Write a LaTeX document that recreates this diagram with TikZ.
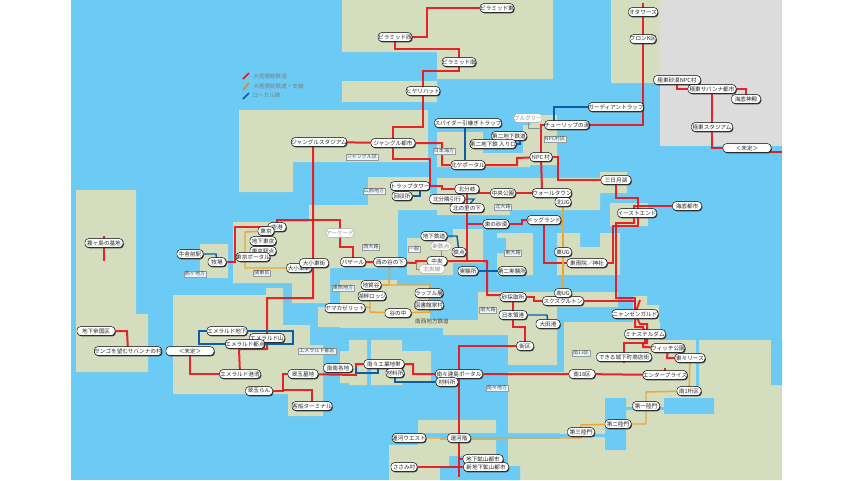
\documentclass[tikz,border=0pt]{standalone}
\usepackage{fontspec}
\setmainfont{Noto Sans CJK JP}
\usetikzlibrary{shadows}
\pgfdeclarelayer{landl}\pgfdeclarelayer{linesl}
\pgfsetlayers{landl,linesl,main}
\definecolor{sea}{HTML}{6BCBF5}
\definecolor{land}{HTML}{D4DDBE}
\definecolor{grayland}{HTML}{DCDCDC}
\definecolor{redl}{HTML}{E8141A}
\definecolor{orgl}{HTML}{EDA534}
\definecolor{blul}{HTML}{0A5FA8}
\tikzset{
 x=0.75pt,y=-0.75pt,
 stn/.style={draw=black,line width=.35pt,fill=white,rounded corners=2.6pt,inner sep=0pt,minimum height=6.6pt,
   font=\fontsize{4.2}{5}\selectfont,text=black!85,
   drop shadow={shadow xshift=.6pt,shadow yshift=-.7pt,fill=black!75,opacity=1}},
 fad/.style={draw=black!35,line width=.3pt,fill=white,rounded corners=2.6pt,inner sep=0pt,minimum height=6.6pt,
   font=\fontsize{4.2}{5}\selectfont,text=black!45},
 wd/.style={minimum width=#1*0.75pt},
 area/.style={draw=black!40,line width=.25pt,fill=white!85!sea,inner sep=.7pt,font=\fontsize{3.8}{4.5}\selectfont,text=black!70},
 rr/.style={draw=redl,line width=1.5pt,draw opacity=.92,line join=miter},
 oo/.style={draw=orgl,line width=1.1pt,line join=miter},
 bb/.style={draw=blul,line width=1.1pt,line join=miter},
 gg/.style={draw=black!45,line width=.5pt},
 lg/.style={inner sep=0pt,anchor=west,font=\fontsize{4.2}{5}\selectfont,text=black!50},
}
\begin{document}
\begin{tikzpicture}
\useasboundingbox (0,0) rectangle (854,480);
\begin{pgfonlayer}{landl}
\fill[white] (0,0) rectangle (854,480);
\fill[sea] (71,0) rectangle (782,480);
\fill[grayland] (660,0) rectangle (782,146);
\fill[land]
 (342,0) rectangle (553,52) (437,52) rectangle (553,79) (342,81) rectangle (437,102)
 (239,110) rectangle (428,162) (239,162) rectangle (293,192)
 (437,132) rectangle (483,167) (483,153) rectangle (530,167)
 (531,115) rectangle (557,125) (523,125) rectangle (557,165)
 (611,0) rectangle (660,83)
 (76,190) rectangle (136,314) (76,314) rectangle (148,372)
 (200,244) rectangle (228,278)
 (233,222) rectangle (309,283) (309,205) rectangle (330,283) (292,283) rectangle (330,303)
 (330,205) rectangle (398,268) (368,177) rectangle (398,205) (398,177) rectangle (430,210)
 (430,197) rectangle (438,210) (437,178) rectangle (510,215) (510,178) rectangle (600,210)
 (600,172) rectangle (627,193)
 (407,238) rectangle (453,275) (453,229) rectangle (483,263)
 (497,233) rectangle (533,275)
 (557,233) rectangle (580,275) (600,233) rectangle (620,275) (580,247) rectangle (600,275)
 (610,203) rectangle (648,226)
 (478,292) rectangle (618,307) (478,307) rectangle (557,320)
 (443,320) rectangle (508,335) (508,320) rectangle (557,365)
 (340,280) rectangle (397,328) (397,285) rectangle (430,328) (430,320) rectangle (443,328)
 (633,296) rectangle (647,322) (647,305) rectangle (659,340)
 (564,322) rectangle (660,372) (508,372) rectangle (782,433) (508,439) rectangle (782,480)
 (560,372) rectangle (782,480) (660,340) rectangle (782,480)
 (173,295) rectangle (266,394) (266,288) rectangle (283,394) (283,325) rectangle (310,394)
 (310,345) rectangle (323,416) (288,394) rectangle (323,416)
 (318,307) rectangle (350,327)
 (340,351) rectangle (349,383) (349,340) rectangle (367,385)
 (371,340) rectangle (402,385) (402,351) rectangle (431,383)
 (418,420) rectangle (496,433) (389,445) rectangle (440,480) (418,437) rectangle (440,445)
 (440,440) rectangle (496,456) (440,456) rectangle (449,466) (465,456) rectangle (496,466)
 ;
\fill[sea] (771,340) rectangle (782,385) (696,340) rectangle (699,390)
 (605,398) rectangle (626,450) (664,398) rectangle (714,414) (626,407) rectangle (664,410)
 (550,434) rectangle (605,437) (497,238) rectangle (506,253)
 (440,466) rectangle (520,480);
\end{pgfonlayer}

% stations
\node[stn,wd=30] (pyre) at (497,8) {ピラミッド東};
\node[stn,wd=30] (pyrw) at (395,37) {ピラミッド西};
\node[stn,wd=33] (pyrs) at (459,62) {ピラミッド南};
\node[stn,wd=33] (hiya) at (423,91) {ヒヤリハット};
\node[stn,wd=50] (jsta) at (319,142) {ジャングルスタジアム};
\node[stn,wd=44] (jcit) at (393,143) {ジャングル都市};
\node[stn,wd=53] (spid) at (468,123) {スパイダー引継ぎトラップ};
\node[fad,wd=27] (blue) at (528,118) {ブルグリー};
\node[stn,wd=44] (tuli) at (567,125) {チューリップの湯};
\node[stn,wd=35] (sub2) at (509,136) {第二地下鉄道};
\node[stn,wd=40] (sub2i) at (493,144) {第二地下鉄 入り口};
\node[stn,wd=22] (npc) at (541,157) {NPC 村};
\node[stn,wd=34] (nkpo) at (468,165) {北ケポータル};
\node[stn,wd=29] (otaw) at (643,12) {オタワース};
\node[stn,wd=24] (fron) at (643,39) {フロンK区};
\node[stn,wd=47] (fedn) at (677,80) {極東砂漠NPC村};
\node[stn,wd=48] (fesv) at (712,89) {極東サバンナ都市};
\node[stn,wd=29] (kait) at (746,99) {海底神殿};
\node[stn,wd=41] (fest) at (712,127) {極東スタジアム};
\node[stn,wd=48] (mit1) at (747,148) {＜未定＞};
\node[stn,wd=49] (gard) at (616,107) {ガーディアントラップ};
\node[stn,wd=38] (kiri) at (104,243) {霧ヶ島の基地};
\node[stn,wd=18] (boku) at (217,262) {牧場};
\node[stn,wd=26] (ushi) at (190,254) {牛舎前駅};
\node[stn,wd=18] (kuko) at (277,227) {空港};
\node[stn,wd=16] (tokyo) at (266,231) {東京};
\node[stn,wd=26] (chit) at (263,241) {地下東京};
\node[stn,wd=26] (tkpt) at (263,251) {東京駅点};
\node[stn,wd=31] (tkpo) at (253,257) {東京ポータル};
\node[stn,wd=25] (osta) at (299,268) {大小東駅};
\node[stn,wd=29] (omac) at (314,263) {大小東街};
\node[stn,wd=35] (trap) at (410,186) {トラップタワー};
\node[stn,wd=20] (kais) at (402,196) {回収所};
\node[stn,wd=24] (nbun) at (467,189) {北分岐};
\node[stn,wd=25] (ckou) at (503,193) {中央公園};
\node[stn,wd=35] (nhik) at (447,199) {北分隣引行};
\node[stn,wd=34] (nsat) at (467,208) {北の里の下};
\node[stn,wd=26] (esab) at (496,224) {東の砂漠};
\node[stn,wd=26] (chik) at (434,236) {地下鉄道};
\node[fad,wd=20] (shin) at (441,246) {新鉄点};
\node[stn,wd=14] (tetu) at (459,252) {鉄点};
\node[stn,wd=20] (chuo) at (437,261) {中央};
\node[fad,wd=25] (hoku) at (432,269) {北央線};
\node[stn,wd=20] (jikk) at (468,271) {実験所};
\node[stn,wd=28] (jik2) at (512,271) {第二実験所};
\node[fad,wd=26] (arcd) at (340,233) {アーケード};
\node[stn,wd=25] (baza) at (353,262) {バザール};
\node[stn,wd=33] (nish) at (390,262) {西の谷の下};
\node[stn,wd=20] (chis) at (371,285) {地質谷};
\node[stn,wd=25] (koha) at (372,296) {湖畔ロッジ};
\node[stn,wd=40] (yama) at (345,308) {ヤマカゼリット};
\node[stn,wd=26] (tani) at (398,313) {谷の中};
\node[stn,wd=24] (raff) at (429,293) {ラッフル層};
\node[stn,wd=29] (tosh) at (429,305) {図書館家村};
\node[stn,wd=26] (saik) at (513,297) {砂採取所};
\node[stn,wd=41] (skus) at (563,301) {スクスクルトン};
\node[stn,wd=28] (nihn) at (513,315) {日本領港};
\node[stn,wd=24] (otak) at (548,324) {大田港};
\node[stn,wd=17] (gaik) at (525,346) {街区};
\node[stn,wd=30] (mika) at (616,180) {三日月湖};
\node[stn,wd=38] (wall) at (552,193) {ウォールタウン};
\node[stn,wd=16] (kita) at (563,202) {北UG};
\node[stn,wd=30] (dogl) at (544,220) {ドッグランド};
\node[stn,wd=39] (east) at (637,213) {イーストエンド};
\node[stn,wd=29] (kcit) at (687,206) {海底都市};
\node[stn,wd=17] (higa) at (563,252) {東UG};
\node[stn,wd=40] (ame) at (587,263) {東雨院／神社};
\node[stn,wd=17] (mina) at (563,293) {南UG};
\node[stn,wd=46] (nyan) at (635,314) {ニャンゼンガルド};
\node[stn,wd=41] (mins) at (645,334) {ミナステルダム};
\node[stn,wd=33] (wich) at (668,348) {ウィッチ公園};
\node[stn,wd=30] (toto) at (690,358) {東々リース};
\node[stn,wd=55] (deki) at (624,357) {できる城下町商店街};
\node[stn,wd=40] (ente) at (665,375) {エンタープライズ};
\node[stn,wd=26] (m18) at (582,374) {南18区};
\node[stn,wd=24] (m1k) at (689,391) {南1桁区};
\node[stn,wd=27] (gat1) at (646,406) {第一陸門};
\node[stn,wd=26] (gat2) at (618,424) {第二陸門};
\node[stn,wd=27] (gat3) at (581,432) {第三陸門};
\node[stn,wd=40] (koug) at (384,364) {南々工業地帯};
\node[stn,wd=29] (nnak) at (338,368) {南南各地};
\node[stn,wd=18] (zai1) at (395,373) {材料所};
\node[stn,wd=47] (rent) at (459,374) {南々連島ポータル};
\node[stn,wd=22] (zai2) at (447,382) {材料所};
\node[stn,wd=31] (unwe) at (409,438) {運河ウエスト};
\node[stn,wd=23] (unga) at (459,438) {運河階};
\node[stn,wd=40] (kouz) at (483,459) {地下鉱山都市};
\node[stn,wd=45] (shik) at (486,467) {新地下鉱山都市};
\node[stn,wd=26] (sasa) at (404,467) {ささみ村};
\node[stn,wd=38] (teik) at (96,331) {地下帝国区};
\node[stn,wd=62] (sang) at (128,351) {サンゴを望むサバンナの村};
\node[stn,wd=48] (mit2) at (190,351) {＜未定＞};
\node[stn,wd=40] (emch) at (227,331) {エメラルド地下};
\node[stn,wd=35] (emya) at (267,338) {エメラルド山};
\node[stn,wd=39] (emto) at (245,344) {エメラルド都点};
\node[stn,wd=41] (emko) at (240,374) {エメラルド港湾};
\node[stn,wd=30] (suib) at (303,374) {翠玉墓地};
\node[stn,wd=27] (suir) at (259,391) {翠玉らん};
\node[stn,wd=40] (kyak) at (312,406) {客船ターミナル};

% area labels
\node[area] (a1) at (362,157) {ジャングル区};
\node[area] (a2) at (555,139) {NPC村区};
\node[area] (a3) at (444,151) {日本海方};
\node[area] (a4) at (195,274) {西ヶ地方};
\node[area] (a5) at (262,273) {関東区};
\node[area] (a6) at (374,191) {広西地方};
\node[area] (a7) at (503,207) {北大路};
\node[area] (a8) at (414,249) {一般};
\node[area] (a9) at (371,247) {西大路};
\node[area] (a10) at (343,288) {東西地方};
\node[area] (a11) at (488,310) {南大路};
\node[area] (a12) at (581,353) {南13区};
\node[area] (a13) at (497,388) {南々地方};
\node[area] (a14) at (317,351) {エメラルド都区};
\node[area] (a15) at (513,253) {東大路};
\node[inner sep=0pt,font=\fontsize{4.2}{5}\selectfont\itshape,text=black!70] (t1) at (432,321) {南西地方鉄道};

% legend
\coordinate (l1a) at (243,79); \coordinate (l1b) at (249,73);
\coordinate (l2a) at (243,90); \coordinate (l2b) at (249,83);
\coordinate (l3a) at (243,99); \coordinate (l3b) at (249,93);
\node[lg] (lt1) at (253,76) {大陸横断鉄道};
\node[lg] (lt2) at (253,86) {大陸横断鉄道・支線};
\node[lg] (lt3) at (252,95) {ローカル線};

\begin{pgfonlayer}{linesl}
\draw[draw=redl,line width=1.1pt] (l1a) -- (l1b);
\draw[draw=orgl!60!gray,line width=1.5pt] (l2a) -- (l2b);
\draw[bb] (l3a) -- (l3b);
% red
\draw[rr] (pyre.center) -- (427,8) -- (427,37) -- (pyrw.center);
\draw[rr] (pyrw.center) -- (395,49) -- (459,49) -- (459,71) -- (423,71) -- (hiya.center) -- (423,127) -- (393,127) -- (jcit.center);
\draw[rr] (jcit.center) -- (393,159) -- (430,159) -- (430,186) -- (442,186) -- (442,189) -- (nbun.center) -- (479,189) -- (479,193) -- (ckou.center) -- (wall.center);
\draw[rr] (jsta.center) -- (jcit.center) -- (442,143) -- (442,165) -- (nkpo.center) -- (517,165) -- (517,158) -- (npc.center);
\draw[rr] (npc.center) -- (542,190) -- (wall.center);
\draw[rr] (npc.center) -- (558,157) -- (558,180) -- (mika.center);
\draw[rr] (npc.center) -- (541,125) -- (tuli.center) -- (643,125) -- (fron.center) -- (otaw.center) -- (643,3);
\draw[rr] (fedn.center) -- (677,89) -- (fesv.center) -- (746,89) -- (kait.center);
\draw[rr] (fesv.center) -- (fest.center) -- (712,148) -- (mit1.center) -- (747,152) -- (782,152);
\draw[rr] (104,236) -- (kiri.center) -- (104,261);
\draw[rr] (jsta.center) ++(-6,0) -- (313,298) -- (267,298) -- (emya.center) -- (267,349) -- (239,349) -- (emko.center);
\draw[rr] (mit2.center) -- (190,374) -- (emko.center);
\draw[rr] (boku.center) -- (235,262) -- (235,227) -- (kuko.center);
\draw[rr] (kuko.center) -- (277,220) -- (340,220) -- (340,247) -- (353,247) -- (baza.center) -- (nish.center);
\draw[rr] (nish.center) -- (416,263) -- (416,261) -- (chuo.center) -- (487,261) -- (487,295) -- (500,295) -- (saik.center);
\draw[rr] (nbun.center) -- (nsat.center) -- (467,261);
\draw[rr] (467,224) -- (esab.center) -- (510,224) -- (522,224) -- (522,220) -- (dogl.center);
\draw[rr] (dogl.center) -- (544,263) -- (ame.center);
\draw[rr] (saik.center) -- (534,297) -- (534,301) -- (skus.center) -- (635,301) -- (nyan.center);
\draw[rr] (513,301) -- (nihn.center) -- (513,327) -- (525,327) -- (gaik.center);
\draw[rr] (gaik.center) -- (459,346) -- (rent.center) -- (unga.center) -- (459,477);
\draw[rr] (459,459) -- (kouz.center);
\draw[rr] (sasa.center) -- (shik.center);
\draw[rr] (mika.center) -- (616,198) -- (638,198) -- (638,226) -- (613,226) -- (613,263) -- (ame.center);
\draw[rr] (kcit.center) -- (634,206) -- (634,223) -- (616,223) -- (616,298) -- (635,298) -- (nyan.center);
\draw[rr] (nyan.center) -- (635,327) -- (643,327) -- (mins.center);
\draw[rr] (640,300) -- (nyan.center) -- (640,324) -- (647,324) -- (647,343) -- (643,343) -- (643,347) -- (wich.center);
\draw[rr] (wich.center) -- (667,358) -- (toto.center);
\draw[rr] (mins.center) -- (645,343) -- (624,343) -- (deki.center) -- (624,363);
\draw[rr] (665,368) -- (ente.center);
\draw[rr] (rent.center) -- (m18.center) -- (ente.center);
\draw[rr] (suir.center) -- (283,391) -- (283,374) -- (suib.center);
\draw[rr] (283,390) -- (312,390) -- (kyak.center);
\draw[rr] (suib.center) -- (356,375) -- (356,364) -- (koug.center) -- (413,364) -- (413,374) -- (rent.center);
\draw[rr] (teik.center) -- (127,331) -- (sang.center);
% orange
\draw[oo] (tokyo.center) -- (245,232) -- (245,268) -- (osta.center);
\draw[oo] (kita.center) -- (higa.center) -- (mina.center);
\draw[oo] (nish.center) -- (389,285) -- (430,285) -- (tosh.center) -- (430,312) -- (tani.center);
\draw[oo] (chis.center) -- (389,285);
\draw[oo] (yama.center) -- (370,307) -- (370,285) -- (chis.center);
\draw[oo] (370,307) -- (370,312) -- (tani.center);
\draw[oo] (unwe.center) -- (581,438) -- (581,425) -- (gat2.center) -- (646,424) -- (646,392) -- (m1k.center) -- (toto.center);
% blue
\draw[bb] (ushi.center) -- (216,254) -- (boku.center);
\draw[bb] (emch.center) -- (199,331) -- (199,344) -- (emto.center);
\draw[bb] (emch.center) -- (293,331) -- (293,344) -- (emto.center);
\draw[bb] (koug.center) ++(-28,4) -- (356,373) -- (378,373) -- (378,368);
\draw[bb] (zai1.center) -- (395,382) -- (zai2.center);
\draw[bb] (tuli.center) -- (554,125) -- (554,107) -- (gard.center);
\draw[bb] (spid.center) -- (465,123) -- (465,160);
\draw[bb] (sub2.center) -- (520,136) -- (520,144) -- (sub2i.center);
\draw[bb] (trap.center) -- (420,186) -- (420,196) -- (kais.center);
\draw[bb] (nhik.center) -- (474,199) -- (nsat.center);
\draw[bb] (chik.center) -- (457,236) -- (tetu.center);
\draw[bb] (jikk.center) -- (jik2.center);
\draw[bb] (nihn.center) -- (547,315) -- (otak.center);
% grey
\draw[gg] (tokyo.center) -- (263,257);
\draw[gg] (blue.center) -- (528,128) -- (541,128);
\draw[gg] (shin.center) -- (441,258);
\draw[gg] (416,263) -- (416,269) -- (hoku.center);
\draw[gg] (372,285) -- (372,296);
\end{pgfonlayer}
\end{tikzpicture}
\end{document}
